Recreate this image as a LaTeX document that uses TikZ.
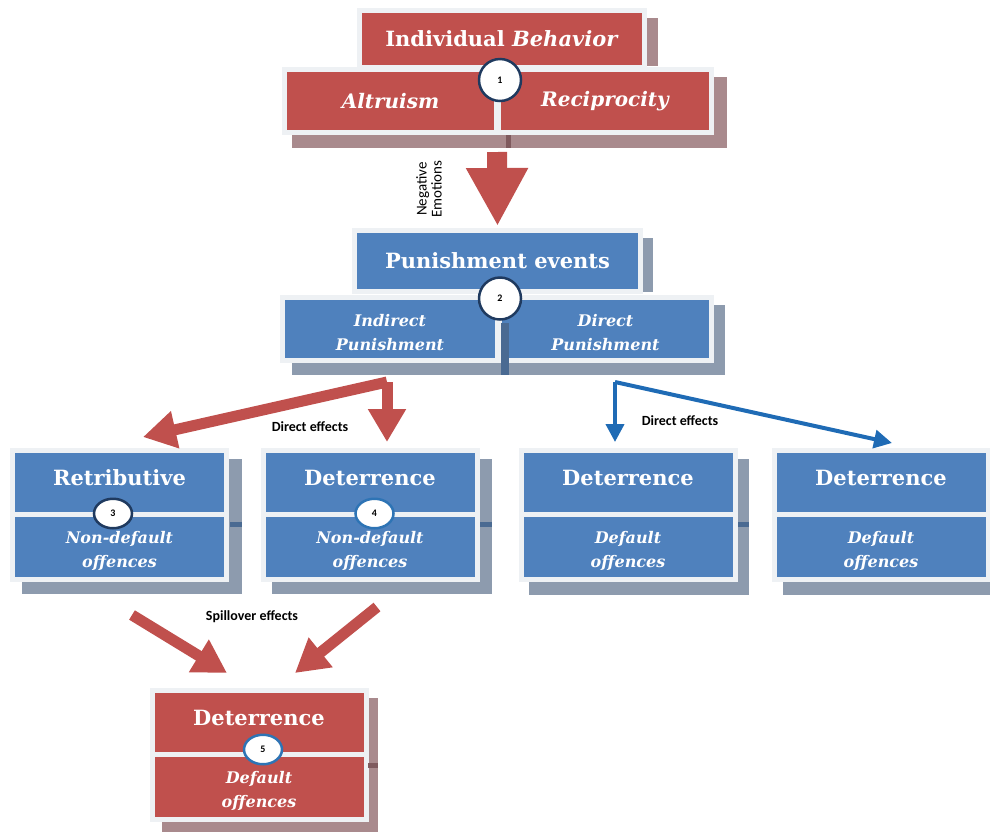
\documentclass[tikz,border=0pt]{standalone}
\usepackage{fontspec}
\setmainfont{DejaVu Serif}
\newfontfamily\lblfont{Carlito}
\usetikzlibrary{arrows.meta,positioning,shapes.geometric}

\definecolor{boxred}{HTML}{C0504D}
\definecolor{boxblue}{HTML}{4F81BD}
\definecolor{redshade}{HTML}{A98A8D}
\definecolor{blueshade}{HTML}{8D9BAE}
\definecolor{rednotch}{HTML}{7F5A5E}
\definecolor{bluenotch}{HTML}{4A6A92}
\definecolor{boxframe}{HTML}{EEF1F4}
\definecolor{ringnavy}{HTML}{1F3A5F}
\definecolor{ringblue}{HTML}{2E74B5}
\definecolor{arrowblue}{HTML}{1F6BB5}

% pushes the two-line texts a little down
\newcommand\subgap{\rule{0pt}{20pt}}

\tikzset{
	box/.style={draw=boxframe, line width=5pt, inner sep=0pt, outer sep=0pt, text=white, align=center},
	redbox/.style={box, fill=boxred},
	bluebox/.style={box, fill=boxblue},
	ttl/.style={font=\fontsize{21}{25}\selectfont\bfseries},
	ttlup/.style={ttl, text height=15pt, text depth=9pt},
	subbig/.style={font=\fontsize{20}{24}\selectfont\bfseries\itshape},
	sub/.style={font=\fontsize{16}{24}\selectfont\bfseries\itshape},
	colw/.style={minimum width=214pt},
	numring/.style={circle, draw=#1, line width=2.5pt, fill=white, text=black, inner sep=0pt, minimum size=42pt, font=\lblfont\bfseries\fontsize{10}{12}\selectfont},
	numoval/.style={numring=#1, ellipse, minimum width=38pt, minimum height=29.5pt},
	bigarrow/.style={draw=boxred, line width=20pt, -{Triangle[length=58pt,width=58pt]}},
	redarrow/.style={draw=boxred, line width=11pt, line join=miter, -{Triangle[length=33pt,width=36pt]}},
	bluearrow/.style={draw=arrowblue, line width=4pt, line join=miter, -{Triangle[length=18pt,width=18pt]}},
	effect/.style={font=\lblfont\bfseries\fontsize{14}{16}\selectfont, inner sep=1pt}
}

\begin{document}
\begin{tikzpicture}[x=1pt,y=-1pt]
		\clip (0,0) rectangle (990,831);
		
		% shadows behind the boxes
		\fill[redshade] (370,18) rectangle (658,66);
		\fill[redshade] (292,77) rectangle (727,148);
		\fill[blueshade] (370,238) rectangle (653,292);
		\fill[blueshade] (292,305) rectangle (725,375);
		\fill[blueshade] (22,459) rectangle (242,594);
		\fill[blueshade] (272,459) rectangle (492,594);
		\fill[blueshade] (529,459) rectangle (749,595);
		\fill[blueshade] (783,459) rectangle (1000,595);
		\fill[redshade] (162,698) rectangle (378,840);
		
		% individual behavior
		\node[redbox, ttl, minimum width=285pt, minimum height=57pt] (behav) at (502,39) {Individual \textit{Behavior}};
		\node[redbox, subbig, minimum width=212pt, minimum height=63pt] (altru) at (390.5,101) {Altruism};
		\node[redbox, subbig, minimum width=213pt, minimum height=63pt, right=2pt of altru] (recip) {Reciprocity};
		
		% punishment events
		\node[bluebox, ttl, minimum width=286pt, minimum height=61pt] (punev) at (497.5,261) {Punishment events};
		\node[bluebox, sub, minimum width=215pt, minimum height=63pt] (indir) at (390,329) {\subgap Indirect\\Punishment};
		\node[bluebox, sub, minimum width=212pt, minimum height=63pt, right=2pt of indir] (direc) {\subgap Direct\\Punishment};
		
		% effects
		\node[bluebox, ttlup, colw, minimum height=64pt] (rettop) at (119.5,482.5) {Retributive};
		\node[bluebox, sub, colw, minimum height=65pt, below=0pt of rettop] (retbot) {\subgap Non-default\\offences};
		\node[bluebox, ttlup, colw, minimum height=64pt] (ndtop) at (370,482.5) {Deterrence};
		\node[bluebox, sub, colw, minimum height=65pt, below=0pt of ndtop] (ndbot) {\subgap Non-default\\offences};
		\node[bluebox, ttlup, colw, minimum height=64pt] (datop) at (628,482.5) {Deterrence};
		\node[bluebox, sub, colw, minimum height=65pt, below=0pt of datop] (dabot) {\subgap Default\\offences};
		\node[bluebox, ttlup, colw, minimum height=64pt] (dbtop) at (881,482.5) {Deterrence};
		\node[bluebox, sub, colw, minimum height=65pt, below=0pt of dbtop] (dbbot) {\subgap Default\\offences};
		\node[redbox, ttlup, colw, minimum height=64pt] (sptop) at (259,722.5) {Deterrence};
		\node[redbox, sub, colw, minimum height=65pt, below=0pt of sptop] (spbot) {\subgap Default\\offences};
		
		% darker notches in the shadows
		\fill[rednotch] (506,135) rectangle (511,148);
		\fill[bluenotch] (501,323) rectangle (509,375);
		\fill[bluenotch] (230,522) rectangle (242,527);
		\fill[bluenotch] (480,522) rectangle (492,527);
		\fill[bluenotch] (738,522) rectangle (749,527);
		\fill[rednotch] (368,763) rectangle (378,768);
		
		% numbers
		\node[numring=ringnavy] (num1) at (500,80) {1};
		\node[numring=ringnavy] (num2) at (500,298.5) {2};
		\node[numoval=ringnavy] (num3) at ([xshift=-6.5pt,yshift=1pt]rettop.south) {3};
		\node[numoval=ringblue] (num4) at ([xshift=4.5pt,yshift=1pt]ndtop.south) {4};
		\node[numoval=ringblue] (num5) at ([xshift=4pt,yshift=5pt]sptop.south) {5};
		
		% arrows
		\draw[bigarrow] ([xshift=-1.5pt,yshift=-19.5pt]recip.south west) -- ([yshift=4.5pt]punev.north);
		\coordinate (redfork) at ([xshift=-3pt,yshift=-21.5pt]indir.south);
		\draw[redarrow] (redfork) -- ([xshift=23.5pt,yshift=13.5pt]rettop.north);
		\draw[redarrow] (redfork) -- ([xshift=17pt,yshift=8.5pt]ndtop.north);
		\coordinate (bluefork) at ([xshift=9.5pt,yshift=-21.5pt]direc.south);
		\draw[bluearrow] (bluefork) -- ([xshift=-13pt,yshift=8.5pt]datop.north);
		\draw[bluearrow] (bluefork) -- ([xshift=11pt,yshift=7.5pt]dbtop.north);
		\draw[redarrow] ([xshift=12.5pt,yshift=-35.5pt]retbot.south) -- ([xshift=-32pt,yshift=17.5pt]sptop.north);
		\draw[redarrow] ([xshift=7pt,yshift=-27.5pt]ndbot.south) -- ([xshift=36pt,yshift=17.5pt]sptop.north);
		
		% labels
		\node[effect, rotate=90, align=center, font=\lblfont\fontsize{15}{15}\selectfont] (negemo) at (429,189) {Negative\\Emotions};
		\node[effect] (lbldirect) at (310,427) {Direct effects};
		\node[effect] (lbldirectb) at (680,421) {Direct effects};
		\node[effect] (lblspill) at (252,617) {Spillover effects};
		
	\end{tikzpicture}
\end{document}
